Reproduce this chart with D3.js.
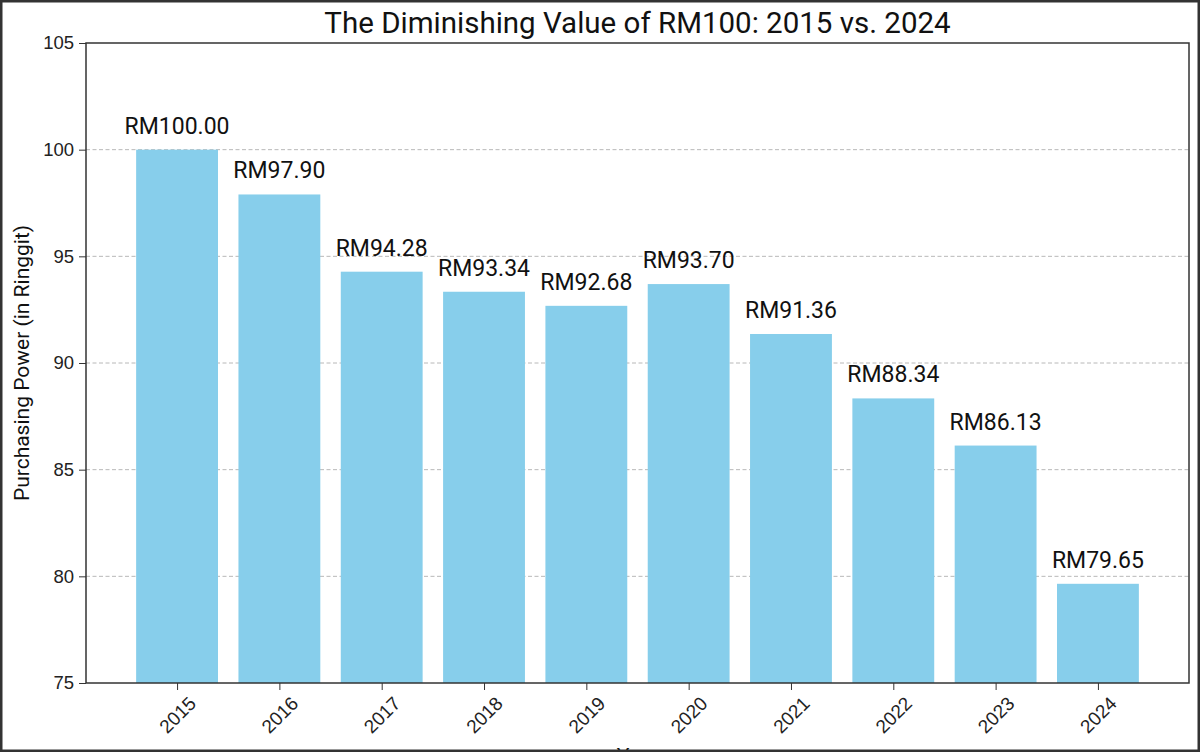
<!DOCTYPE html>
<html>
<head>
<meta charset="utf-8">
<script src="https://cdn.jsdelivr.net/npm/d3@7"></script>
<style>
  html, body { margin: 0; padding: 0; background: #fff; }
  svg { display: block; font-family: Roboto, "Open Sans", sans-serif; }
  .grid line { stroke: #b8b8b8; stroke-dasharray: 4,2.5; stroke-width: 1; }
  .axis path, .axis line { stroke: #333; }
  .axis text { fill: #222; }
</style>
</head>
<body>
<svg id="chart" width="1200" height="752"></svg>
<script>
// RM100 purchasing power by year
const years = ["2015", "2016", "2017", "2018", "2019", "2020", "2021", "2022", "2023", "2024"];
const values = [100.00, 97.90, 94.28, 93.34, 92.68, 93.70, 91.36, 88.34, 86.13, 79.65];
const yTicks = [75, 80, 85, 90, 95, 100, 105];

const svg = d3.select("#chart");
const W = 1200, H = 752;
const m = { left: 86, right: 11, top: 43, bottom: 69 };
const pw = W - m.left - m.right;
const ph = H - m.top - m.bottom;

// matplotlib-style bar positions: centers at 0..n-1, width .8, 5% margins
const n = years.length;
const lo = -0.4, hi = n - 1 + 0.4, pad = (hi - lo) * 0.05;
const x = d3.scaleLinear().domain([lo - pad, hi + pad]).range([m.left, m.left + pw]);
const y = d3.scaleLinear().domain([75, 105]).range([m.top + ph, m.top]);

// grid
svg.append("g").attr("class", "grid")
    .selectAll("line")
    .data(yTicks.filter(t => t > 75 && t < 105))
    .enter().append("line")
    .attr("x1", m.left).attr("x2", m.left + pw)
    .attr("y1", d => y(d)).attr("y2", d => y(d));

// bars
svg.append("g").selectAll("rect")
    .data(values).enter().append("rect")
    .attr("x", (d, i) => x(i - 0.4))
    .attr("width", x(0.8) - x(0))
    .attr("y", d => y(d))
    .attr("height", d => y(75) - y(d))
    .attr("fill", "#87ceeb");

// value labels
svg.append("g").selectAll("text")
    .data(values).enter().append("text")
    .attr("x", (d, i) => x(i))
    .attr("y", d => y(d) - 16)
    .attr("text-anchor", "middle")
    .attr("font-size", 23)
    .attr("fill", "#111")
    .text(d => "RM" + d.toFixed(2));

// y axis
const yAxis = svg.append("g").attr("class", "axis")
    .attr("transform", `translate(${m.left},0)`)
    .call(d3.axisLeft(y).tickValues(yTicks).tickSize(7).tickPadding(5));
yAxis.selectAll("text").attr("font-size", 18.5);
yAxis.select(".domain").remove();

// x axis
const xAxis = svg.append("g").attr("class", "axis")
    .attr("transform", `translate(0,${m.top + ph})`)
    .call(d3.axisBottom(x).tickValues(d3.range(n)).tickFormat(i => years[i]).tickSize(7));
xAxis.select(".domain").remove();
xAxis.selectAll("text")
    .attr("font-size", 19)
    .attr("text-anchor", "middle")
    .attr("dominant-baseline", "central")
    .attr("y", 0).attr("dy", null)
    .attr("transform", "translate(0,32) rotate(-45)");

// frame of the axes
svg.append("rect")
    .attr("x", m.left).attr("y", m.top)
    .attr("width", pw).attr("height", ph)
    .attr("fill", "none").attr("stroke", "#333").attr("stroke-width", 1.5);

// title
svg.append("text")
    .attr("x", m.left + pw / 2).attr("y", 33)
    .attr("text-anchor", "middle")
    .attr("font-size", 29.5)
    .attr("fill", "#111")
    .text("The Diminishing Value of RM100: 2015 vs. 2024");

// axis labels
svg.append("text")
    .attr("transform", `translate(29,${m.top + ph / 2}) rotate(-90)`)
    .attr("text-anchor", "middle")
    .attr("font-size", 21)
    .attr("fill", "#111")
    .text("Purchasing Power (in Ringgit)");

svg.append("text")
    .attr("x", m.left + pw / 2).attr("y", 763)
    .attr("text-anchor", "middle")
    .attr("font-size", 21)
    .attr("fill", "#111")
    .text("Year");

// outer border of the screenshot
svg.append("rect")
    .attr("x", 1).attr("y", 1)
    .attr("width", W - 2).attr("height", H - 2)
    .attr("fill", "none").attr("stroke", "#333").attr("stroke-width", 3);
</script>
</body>
</html>
